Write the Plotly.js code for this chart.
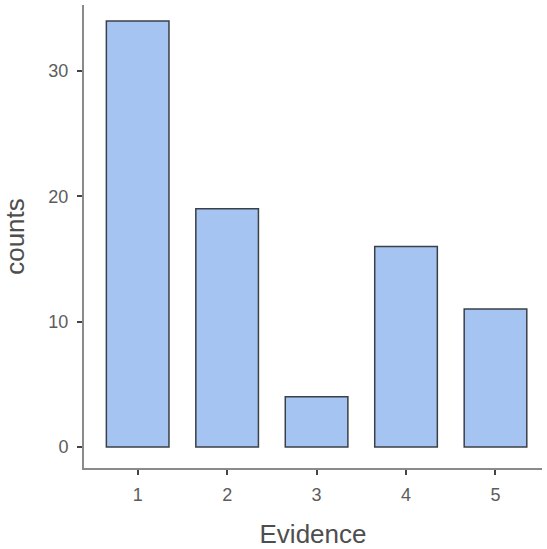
<!DOCTYPE html>
<html><head><meta charset="utf-8">
<script src="https://cdn.plot.ly/plotly-3.0.1.min.js"></script>
<style>html,body{margin:0;padding:0;background:#fff;}#chart{width:547px;height:549px;}</style>
</head><body><div id="chart"></div>
<script>
var categories = [1, 2, 3, 4, 5];
var counts = [34, 19, 4, 16, 11];
var yTicks = [0, 10, 20, 30];

var trace = {
  type: 'bar',
  x: categories,
  y: counts,
  width: 0.7,
  marker: {color: '#a5c4f1', line: {color: '#3b3f47', width: 1.5}},
  hoverinfo: 'x+y'
};
var layout = {
  width: 547, height: 549,
  margin: {l: 84, r: 5, t: 5, b: 81},
  paper_bgcolor: '#fff', plot_bgcolor: '#fff',
  font: {family: 'Liberation Sans, Arial, sans-serif', color: '#555'},
  showlegend: false,
  xaxis: {
    range: [0.4, 5.52], tickvals: categories, ticktext: categories.map(String),
    showgrid: false, zeroline: false, showline: true, linecolor: '#8a8a8a', linewidth: 2,
    ticks: 'outside', ticklen: 5, tickwidth: 2, tickcolor: '#444',
    tickfont: {size: 18, color: '#5c5c5c'}, ticklabelstandoff: 4,
    title: {text: 'Evidence', font: {size: 26, color: '#4e4e4e'}, standoff: 21}
  },
  yaxis: {
    range: [-1.68, 35.27], tickvals: yTicks,
    showgrid: false, zeroline: false, showline: true, linecolor: '#8a8a8a', linewidth: 2,
    ticks: 'outside', ticklen: 5, tickwidth: 2, tickcolor: '#444',
    tickfont: {size: 18, color: '#5c5c5c'}, ticklabelstandoff: 5,
    title: {text: 'counts', font: {size: 26, color: '#4e4e4e'}, standoff: 16}
  }
};
Plotly.newPlot('chart', [trace], layout, {displayModeBar: false, staticPlot: true});
</script></body></html>
